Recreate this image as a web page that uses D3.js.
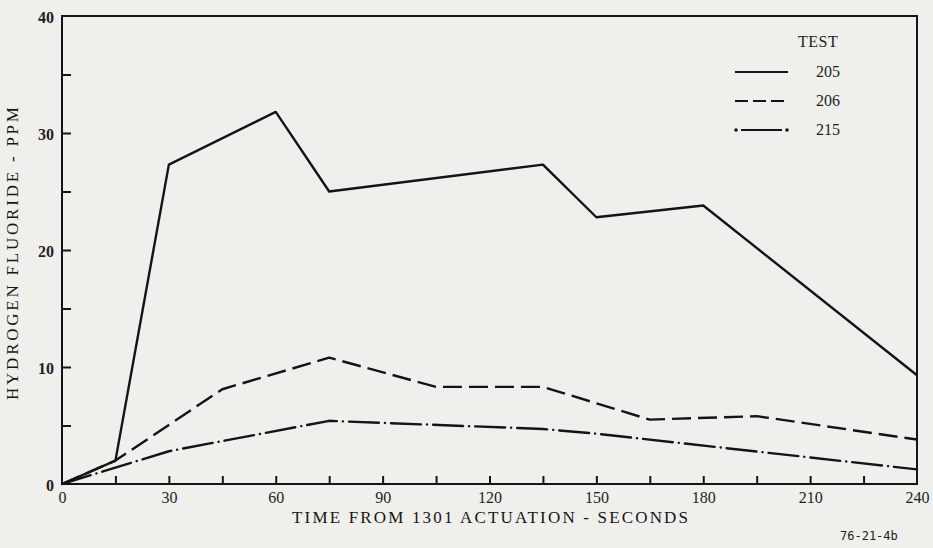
<!DOCTYPE html>
<html>
<head>
<meta charset="utf-8">
<script src="https://cdn.jsdelivr.net/npm/d3@7.9.0/dist/d3.min.js"></script>
<style>
  html, body { margin: 0; padding: 0; background: #efefec; }
  svg { display: block; }
</style>
</head>
<body>
<svg id="chart" width="933" height="548"></svg>
<script>
// time (s) and hydrogen fluoride (ppm)
const times205 = [0, 15, 30, 60, 75, 135, 150, 180, 240];
const hf205    = [0, 2.0, 27.3, 31.8, 25.0, 27.3, 22.8, 23.8, 9.3];

const times206 = [0, 15, 45, 75, 105, 135, 165, 195, 240];
const hf206    = [0, 2.0, 8.1, 10.8, 8.3, 8.3, 5.5, 5.8, 3.8];

const times215 = [0, 30, 75, 135, 150, 240];
const hf215    = [0, 2.8, 5.4, 4.7, 4.3, 1.25];

const tests = ["205", "206", "215"];

const xLabelTicks = [0, 30, 60, 90, 120, 150, 180, 210, 240];
const xMinorTicks = [15, 45, 75, 105, 135, 165, 195, 225];
const yLabelTicks = [0, 10, 20, 30, 40];
const yMinorTicks = [5, 15, 25, 35];

const ink = "#141414";
const serif = "'Liberation Serif', 'DejaVu Serif', serif";

const svg = d3.select("#chart");
const margin = {top: 16, right: 16, bottom: 64, left: 62};
const width = 933 - margin.left - margin.right,
      height = 548 - margin.top - margin.bottom;

const g = svg.append("g").attr("transform", `translate(${margin.left},${margin.top})`);

const x = d3.scaleLinear().domain([0, 240]).range([0, width]);
const y = d3.scaleLinear().domain([0, 40]).range([height, 0]);

// axes with inward ticks, labels only every 30 s / 10 ppm
const xAxis = g.append("g")
    .attr("transform", `translate(0,${height})`)
    .call(d3.axisBottom(x)
        .tickValues([...xLabelTicks, ...xMinorTicks])
        .tickSize(-8).tickPadding(8)
        .tickFormat(d => xLabelTicks.includes(d) ? d : ""));

const yAxis = g.append("g")
    .call(d3.axisLeft(y)
        .tickValues([...yLabelTicks, ...yMinorTicks])
        .tickSize(-9).tickPadding(8)
        .tickFormat(d => yLabelTicks.includes(d) ? d : ""));

[xAxis, yAxis].forEach(a => {
    a.select(".domain").remove();
    a.selectAll(".tick line").attr("stroke", ink).attr("stroke-width", 2);
    a.selectAll(".tick text")
     .attr("fill", "#1e1e1e")
     .style("font-family", serif)
     .style("font-size", "16px");
});
xAxis.selectAll(".tick line").filter(d => d === 0 || d === 240).remove();
yAxis.selectAll(".tick line").filter(d => d === 0 || d === 40).remove();
yAxis.selectAll(".tick text").style("font-weight", "bold").attr("dy", "0.4em");

// frame
g.append("rect")
  .attr("x", 0).attr("y", 0)
  .attr("width", width).attr("height", height)
  .attr("fill", "none")
  .attr("stroke", ink)
  .attr("stroke-width", 2);

// series
const line = d3.line().x(d => x(d[0])).y(d => y(d[1]));
const series = [
    {name: "205", pts: d3.zip(times205, hf205), dash: null, cap: "butt"},
    {name: "206", pts: d3.zip(times206, hf206), dash: "19,7", cap: "butt"},
    {name: "215", pts: d3.zip(times215, hf215), dash: "30,6,0.1,6", cap: "round"}
];

series.forEach(s => {
    g.append("path")
     .datum(s.pts)
     .attr("fill", "none")
     .attr("stroke", ink)
     .attr("stroke-width", 2.4)
     .attr("stroke-linejoin", "round")
     .attr("stroke-linecap", s.cap)
     .attr("stroke-dasharray", s.dash)
     .attr("d", line);
});

// legend
const legend = svg.append("g").attr("transform", "translate(735,47)");
legend.append("text")
  .attr("x", 63).attr("y", 0)
  .style("font-family", serif)
  .style("font-size", "16px")
  .style("letter-spacing", "0.5px")
  .attr("fill", "#1e1e1e")
  .text("TEST");

const legendDash = {"205": null, "206": "13,5", "215": null};
tests.forEach((t, i) => {
    const ly = 25 + i * 29;
    legend.append("line")
      .attr("x1", 0).attr("x2", 53)
      .attr("y1", ly).attr("y2", ly)
      .attr("stroke", ink)
      .attr("stroke-width", 2.2)
      .attr("stroke-dasharray", legendDash[t]);
    if (t === "215") {
        legend.selectAll(null).data([1, 52]).enter().append("circle")
          .attr("cx", d => d).attr("cy", ly).attr("r", 1.8).attr("fill", ink);
        legend.select("line:last-of-type").attr("x1", 6).attr("x2", 47);
    }
    legend.append("text")
      .attr("x", 81).attr("y", ly + 5)
      .style("font-family", serif)
      .style("font-size", "16px")
      .attr("fill", "#1e1e1e")
      .text(t);
});

// axis titles
svg.append("text")
  .attr("x", 292).attr("y", 523)
  .attr("textLength", 396)
  .attr("lengthAdjust", "spacing")
  .style("font-family", serif)
  .style("font-size", "17px")
  .attr("fill", "#161616")
  .text("TIME FROM 1301 ACTUATION - SECONDS");

svg.append("text")
  .attr("transform", "translate(18,400) rotate(-90)")
  .attr("x", 0).attr("y", 0)
  .attr("textLength", 293)
  .attr("lengthAdjust", "spacing")
  .style("font-family", serif)
  .style("font-size", "17px")
  .attr("fill", "#161616")
  .text("HYDROGEN FLUORIDE - PPM");

svg.append("text")
  .attr("x", 840).attr("y", 540)
  .style("font-family", "'DejaVu Sans Mono', monospace")
  .style("font-size", "12px")
  .attr("fill", "#222")
  .text("76-21-4b");
</script>
</body>
</html>
